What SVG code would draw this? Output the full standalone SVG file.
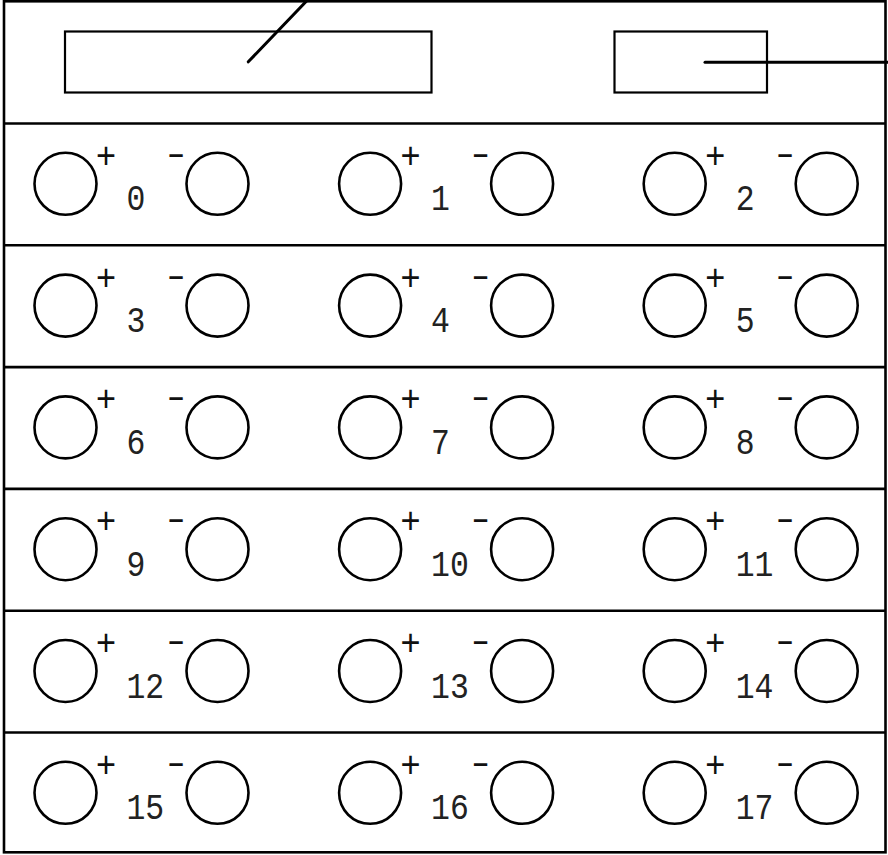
<svg xmlns="http://www.w3.org/2000/svg" xmlns:xlink="http://www.w3.org/1999/xlink" width="888" height="855" viewBox="0 0 888 855">
<style>
.frame{fill:none;stroke:#000;stroke-width:2.6}
.box{fill:none;stroke:#000;stroke-width:2.2}
.lead{fill:none;stroke:#000;stroke-width:3;stroke-linecap:round}
.term{fill:none;stroke:#000;stroke-width:2.6}
.sign{font-family:"Liberation Mono",monospace;font-size:36px;fill:#111;text-anchor:middle}
.num{font-family:"Liberation Mono",monospace;font-size:37px;fill:#222}
</style>
<defs>
<g id="pair">
<circle class="term" cx="65.5" cy="60.3" r="31"/>
<circle class="term" cx="217.5" cy="60.3" r="31"/>
<text class="sign" transform="translate(106,44.3) scale(0.95,1)">+</text>
<text class="sign" transform="translate(176,41.3) scale(1.35,1)">-</text>
</g>
</defs>
<rect id="frame" class="frame" x="4" y="1.3" width="881.5" height="851"/>
<g id="display">
<rect class="box" x="65" y="31.5" width="366.5" height="61"/>
</g>
<g id="indicator">
<rect class="box" x="614.5" y="31.5" width="152.5" height="61"/>
</g>
<g id="connectors">
<line class="lead" x1="248.3" y1="61.8" x2="308.5" y2="-1"/>
<line class="lead" x1="705" y1="62.2" x2="888" y2="62.2"/>
</g>
<g id="rows">
<line class="frame" x1="4" y1="123.5" x2="885.5" y2="123.5"/>
<line class="frame" x1="4" y1="245.3" x2="885.5" y2="245.3"/>
<line class="frame" x1="4" y1="367.1" x2="885.5" y2="367.1"/>
<line class="frame" x1="4" y1="488.9" x2="885.5" y2="488.9"/>
<line class="frame" x1="4" y1="610.7" x2="885.5" y2="610.7"/>
<line class="frame" x1="4" y1="732.5" x2="885.5" y2="732.5"/>
</g>
<g id="t0" transform="translate(0,123.5)"><use xlink:href="#pair"/><text class="num" transform="translate(126.5,86.8) scale(0.85,1)">0</text></g>
<g id="t1" transform="translate(304.6,123.5)"><use xlink:href="#pair"/><text class="num" transform="translate(126.5,86.8) scale(0.85,1)">1</text></g>
<g id="t2" transform="translate(609.2,123.5)"><use xlink:href="#pair"/><text class="num" transform="translate(126.5,86.8) scale(0.85,1)">2</text></g>
<g id="t3" transform="translate(0,245.3)"><use xlink:href="#pair"/><text class="num" transform="translate(126.5,86.8) scale(0.85,1)">3</text></g>
<g id="t4" transform="translate(304.6,245.3)"><use xlink:href="#pair"/><text class="num" transform="translate(126.5,86.8) scale(0.85,1)">4</text></g>
<g id="t5" transform="translate(609.2,245.3)"><use xlink:href="#pair"/><text class="num" transform="translate(126.5,86.8) scale(0.85,1)">5</text></g>
<g id="t6" transform="translate(0,367.1)"><use xlink:href="#pair"/><text class="num" transform="translate(126.5,86.8) scale(0.85,1)">6</text></g>
<g id="t7" transform="translate(304.6,367.1)"><use xlink:href="#pair"/><text class="num" transform="translate(126.5,86.8) scale(0.85,1)">7</text></g>
<g id="t8" transform="translate(609.2,367.1)"><use xlink:href="#pair"/><text class="num" transform="translate(126.5,86.8) scale(0.85,1)">8</text></g>
<g id="t9" transform="translate(0,488.9)"><use xlink:href="#pair"/><text class="num" transform="translate(126.5,86.8) scale(0.85,1)">9</text></g>
<g id="t10" transform="translate(304.6,488.9)"><use xlink:href="#pair"/><text class="num" transform="translate(126.5,86.8) scale(0.85,1)">10</text></g>
<g id="t11" transform="translate(609.2,488.9)"><use xlink:href="#pair"/><text class="num" transform="translate(126.5,86.8) scale(0.85,1)">11</text></g>
<g id="t12" transform="translate(0,610.7)"><use xlink:href="#pair"/><text class="num" transform="translate(126.5,86.8) scale(0.85,1)">12</text></g>
<g id="t13" transform="translate(304.6,610.7)"><use xlink:href="#pair"/><text class="num" transform="translate(126.5,86.8) scale(0.85,1)">13</text></g>
<g id="t14" transform="translate(609.2,610.7)"><use xlink:href="#pair"/><text class="num" transform="translate(126.5,86.8) scale(0.85,1)">14</text></g>
<g id="t15" transform="translate(0,732.5)"><use xlink:href="#pair"/><text class="num" transform="translate(126.5,86.8) scale(0.85,1)">15</text></g>
<g id="t16" transform="translate(304.6,732.5)"><use xlink:href="#pair"/><text class="num" transform="translate(126.5,86.8) scale(0.85,1)">16</text></g>
<g id="t17" transform="translate(609.2,732.5)"><use xlink:href="#pair"/><text class="num" transform="translate(126.5,86.8) scale(0.85,1)">17</text></g>
</svg>
